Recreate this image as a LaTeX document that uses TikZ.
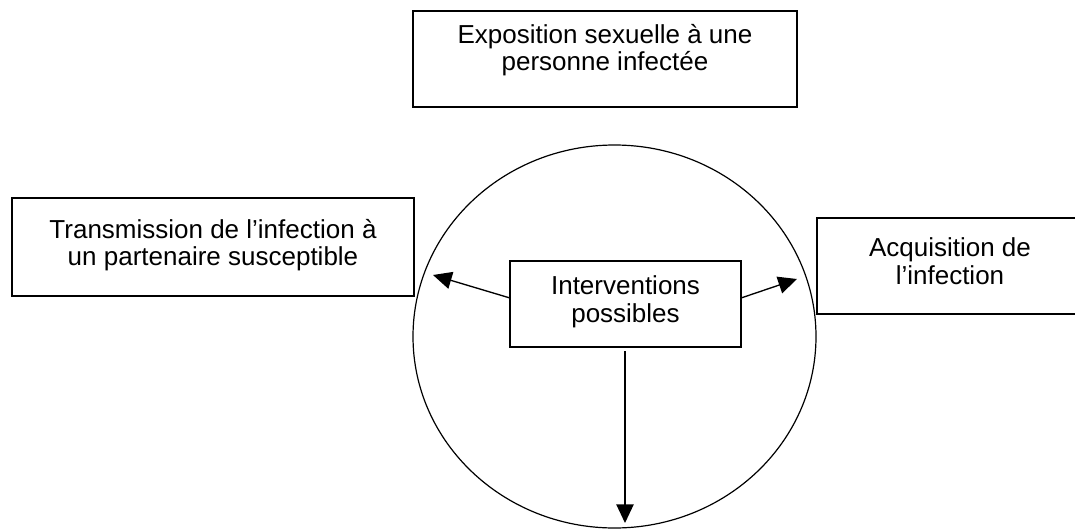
\documentclass[tikz,border=0pt]{standalone}
\usepackage{fontspec}
\setmainfont{Liberation Sans}
\usetikzlibrary{arrows.meta}
\begin{document}
\begin{tikzpicture}[x=0.75pt,y=-0.75pt,
  boxframe/.style={draw=black,line width=1pt,rectangle,inner sep=0pt},
  boxtext/.style={align=center,font=\fontsize{19.5}{20.8}\selectfont,inner sep=0pt},
  arr/.style={line width=1pt,-{Triangle[length=14pt,width=13pt]}}]
\clip (0,0) rectangle (1075,529);
\fill[white] (0,0) rectangle (1075,529);
% top box
\node[boxframe,minimum width=384*0.75pt,minimum height=96*0.75pt] (top) at (605,59) {};
\node[boxtext] (toptext) at (605,50) {Exposition sexuelle à une\\personne infectée};
% circle (ellipse)
\draw[line width=0.9pt] (614.5,336.5) ellipse [x radius=201.5, y radius=191.5];
% left box
\node[boxframe,minimum width=402*0.75pt,minimum height=98*0.75pt] (left) at (213,247) {};
\node[boxtext] (lefttext) at (213,245) {Transmission de l’infection à\\un partenaire susceptible};
% right box
\node[boxframe,minimum width=266*0.75pt,minimum height=96*0.75pt] (right) at (950,266) {};
\node[boxtext] (righttext) at (950,261) {Acquisition de\\l’infection};
% center box
\node[boxframe,minimum width=231*0.75pt,minimum height=86*0.75pt] (center) at (625.5,304) {};
\node[boxtext] (centertext) at (625.5,302) {Interventions\\possibles};
% arrow end points
\coordinate (la) at (433,275);
\coordinate (ra) at (797,279);
\coordinate (da) at (625,523);
\coordinate (ls) at (510,298);
\coordinate (rs) at (741,298);
\coordinate (ds) at (625,351);
\draw[arr] (ls) -- (la);
\draw[arr] (rs) -- (ra);
\draw[arr] (ds) -- (da);
\end{tikzpicture}
\end{document}
